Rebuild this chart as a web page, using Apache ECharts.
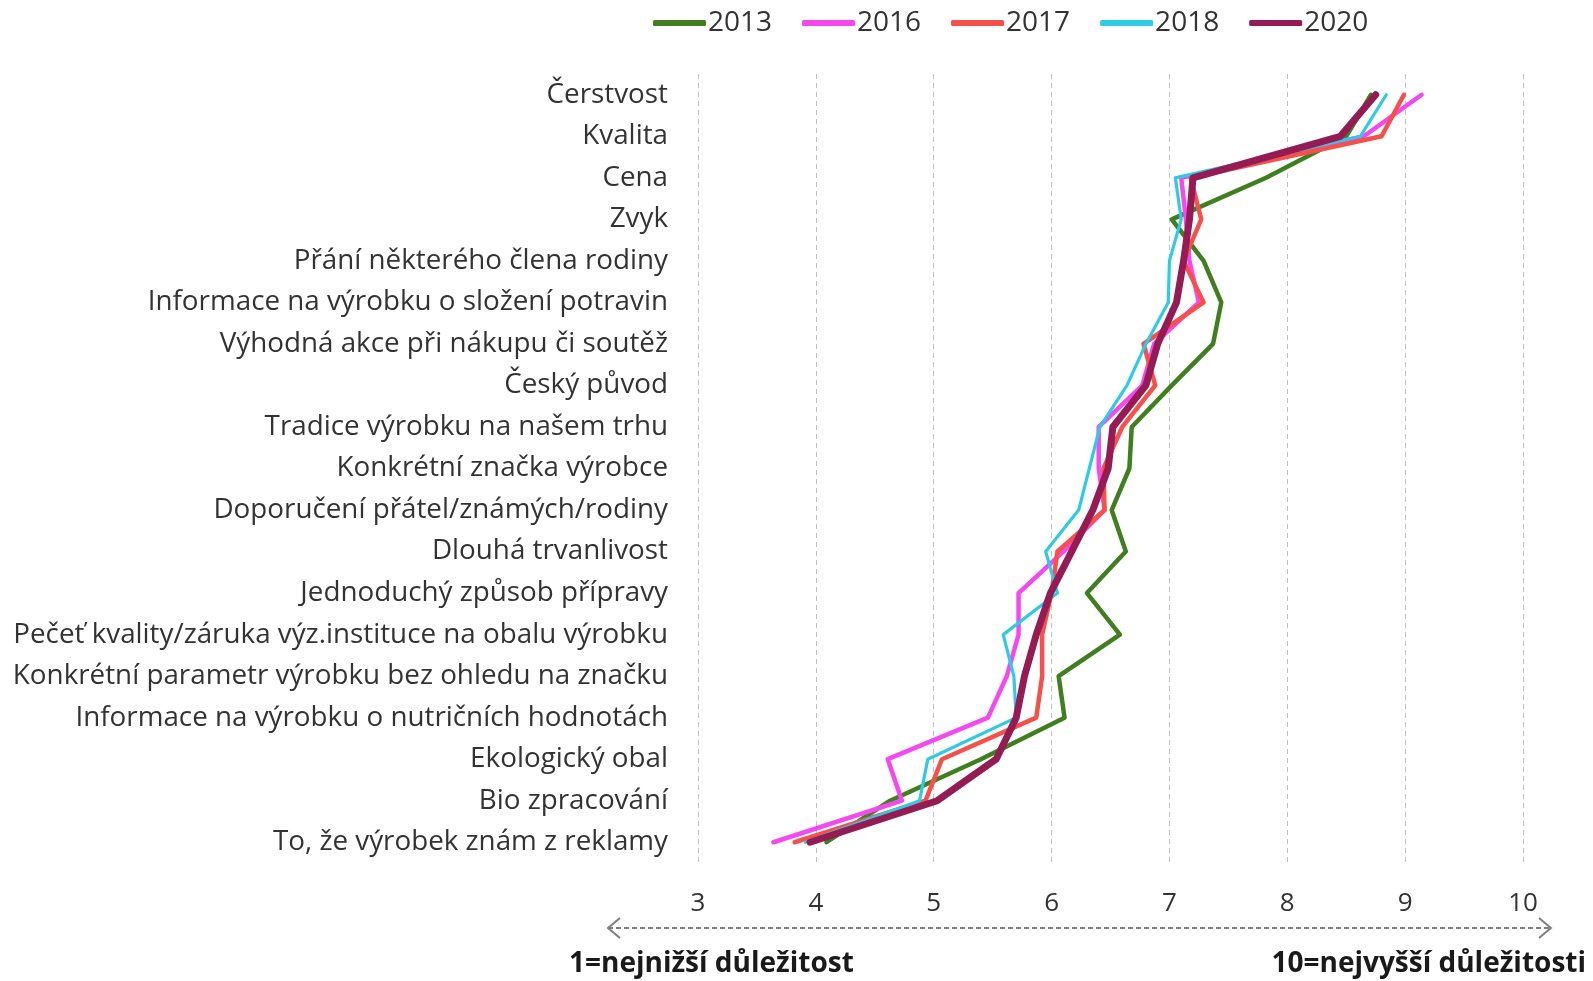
<!DOCTYPE html>
<html>
<head>
<meta charset="utf-8">
<script src="https://cdn.jsdelivr.net/npm/echarts@6/dist/echarts.min.js"></script>
<style>
  html, body { margin: 0; padding: 0; background: #fff; }
  #main { width: 1593px; height: 981px; }
</style>
</head>
<body>
<div id="main"></div>
<script>
const categories = [
  'Čerstvost',
  'Kvalita',
  'Cena',
  'Zvyk',
  'Přání některého člena rodiny',
  'Informace na výrobku o složení potravin',
  'Výhodná akce při nákupu či soutěž',
  'Český původ',
  'Tradice výrobku na našem trhu',
  'Konkrétní značka výrobce',
  'Doporučení přátel/známých/rodiny',
  'Dlouhá trvanlivost',
  'Jednoduchý způsob přípravy',
  'Pečeť kvality/záruka výz.instituce na obalu výrobku',
  'Konkrétní parametr výrobku bez ohledu na značku',
  'Informace na výrobku o nutričních hodnotách',
  'Ekologický obal',
  'Bio zpracování',
  'To, že výrobek znám z reklamy'
]

const years = ['2013', '2016', '2017', '2018', '2020']

const values2013 = [8.71, 8.50, 7.82, 7.02, 7.29, 7.44, 7.37, 7.02, 6.68, 6.66, 6.51, 6.63, 6.30, 6.58, 6.06, 6.11, 5.40, 4.63, 4.09]
const values2016 = [9.14, 8.65, 7.10, 7.14, 7.17, 7.25, 6.87, 6.77, 6.40, 6.40, 6.45, 6.10, 5.72, 5.72, 5.62, 5.46, 4.61, 4.73, 3.64]
const values2017 = [8.99, 8.80, 7.18, 7.27, 7.12, 7.29, 6.78, 6.88, 6.60, 6.44, 6.45, 6.05, 6.00, 5.92, 5.92, 5.87, 5.07, 4.93, 3.82]
const values2018 = [8.84, 8.62, 7.05, 7.10, 7.00, 6.99, 6.80, 6.64, 6.41, 6.32, 6.23, 5.95, 6.05, 5.59, 5.68, 5.70, 4.95, 4.88, 3.91]
const values2020 = [8.75, 8.45, 7.20, 7.17, 7.12, 7.06, 6.90, 6.80, 6.52, 6.48, 6.35, 6.17, 5.99, 5.87, 5.77, 5.70, 5.53, 5.03, 3.95]

const xTicks = [3, 4, 5, 6, 7, 8, 9, 10]

const colors = ['#3f7f1f', '#f548f0', '#f5514a', '#2ecbe8', '#951b55']
const widths = [4.5, 4.5, 4.5, 3.2, 7]
const seriesValues = [values2013, values2016, values2017, values2018, values2020]

const font = '"Open Sans", "Noto Sans", sans-serif'

const myChart = echarts.init(document.getElementById('main'))

myChart.setOption({
  animation: false,
  textStyle: { fontFamily: font },
  legend: {
    data: years,
    top: 4,
    left: 648,
    icon: 'roundRect',
    itemWidth: 53,
    itemHeight: 6,
    itemGap: 30,
    textStyle: { fontSize: 28, color: '#333', fontFamily: font, padding: [0, 0, 0, -3] }
  },
  grid: {
    left: 698,
    right: 70,
    top: 74,
    bottom: 118
  },
  xAxis: {
    type: 'value',
    min: xTicks[0],
    max: xTicks[xTicks.length - 1],
    interval: 1,
    axisLine: { show: false },
    axisTick: { show: false },
    axisLabel: {
      fontSize: 26,
      color: '#333',
      margin: 28,
      fontFamily: font
    },
    splitLine: {
      show: true,
      lineStyle: { type: [5, 4], color: '#c0c0c0', width: 1 }
    }
  },
  yAxis: {
    type: 'category',
    data: categories,
    inverse: true,
    axisLine: { show: false },
    axisTick: { show: false },
    axisLabel: {
      fontSize: 27.8,
      color: '#333',
      margin: 30,
      padding: [4, 0, 0, 0],
      fontFamily: font
    },
    splitLine: { show: false }
  },
  series: years.map((year, i) => ({
    name: year,
    type: 'line',
    data: seriesValues[i],
    symbol: 'none',
    color: colors[i],
    z: 2 + i,
    lineStyle: {
      width: widths[i],
      color: colors[i],
      cap: 'round',
      join: 'round'
    }
  })),
  graphic: [
    {
      type: 'line',
      shape: { x1: 608, y1: 928, x2: 1551, y2: 928 },
      style: { stroke: '#7f7f7f', lineWidth: 2, lineDash: [5, 3] }
    },
    {
      type: 'polyline',
      shape: { points: [[620, 918], [608, 928], [620, 938]] },
      style: { stroke: '#7f7f7f', lineWidth: 2, fill: null }
    },
    {
      type: 'polyline',
      shape: { points: [[1539, 918], [1551, 928], [1539, 938]] },
      style: { stroke: '#7f7f7f', lineWidth: 2, fill: null }
    },
    {
      type: 'text',
      left: 569,
      top: 950,
      style: { text: '1=nejnižší důležitost', fontSize: 28, fontWeight: 'bold', fill: '#1a1a1a', fontFamily: font }
    },
    {
      type: 'text',
      right: 7,
      top: 950,
      style: { text: '10=nejvyšší důležitosti', fontSize: 28, fontWeight: 'bold', fill: '#1a1a1a', fontFamily: font }
    }
  ]
})
</script>
</body>
</html>
